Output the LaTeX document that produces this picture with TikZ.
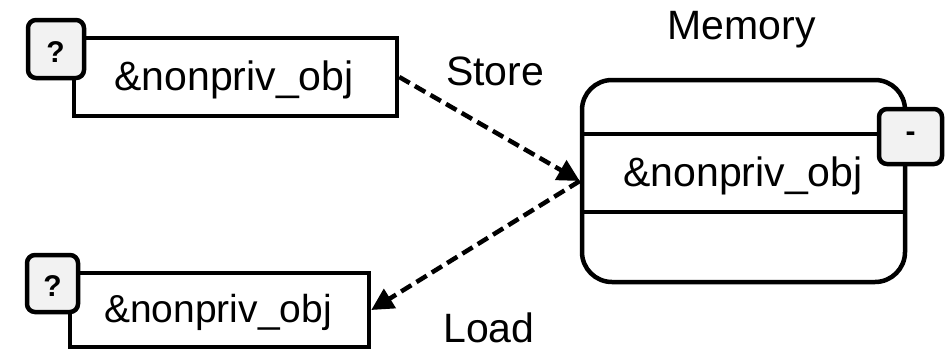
\documentclass[tikz,border=0pt]{standalone}
\usepackage{fontspec}
\setmainfont{Liberation Sans}
\usetikzlibrary{arrows.meta}

\tikzset{
  objbox/.style={draw=black, line width=4.5pt, fill=white, rectangle, inner sep=0pt,
    font=\fontsize{41}{48}\selectfont},
  badge/.style={draw=black, line width=4.5pt, fill=black!5, rectangle, rounded corners=8pt,
    inner sep=0pt, font=\fontsize{30}{36}\selectfont\bfseries},
  membox/.style={draw=black, line width=4.5pt, fill=white, rectangle, rounded corners=30pt,
    inner sep=0pt},
  lbl/.style={font=\fontsize{41}{48}\selectfont, anchor=base, inner sep=0pt},
  flow/.style={draw=black, line width=4.5pt, dash pattern=on 12pt off 6pt,
    -{Triangle[length=22pt,width=22pt]}},
}

\begin{document}
\begin{tikzpicture}[x=1pt, y=-1pt]
  \useasboundingbox (0,0) rectangle (952,351);

  % source object (top)
  \node[objbox, minimum width=323pt, minimum height=78pt] (src) at (235.5,77) {};
  \node[font=\fontsize{41}{48}\selectfont, inner sep=0pt] (srctxt) at (234,80) {\&nonpriv\_obj};
  \node[badge, minimum width=56pt, minimum height=58pt] (srcb) at (56,49) {};
  \node[badge, draw=none, fill=none] (srcq) at (55.5,52) {?};

  % destination object (bottom)
  \node[objbox, minimum width=299pt, minimum height=74pt] (dst) at (219.5,310) {};
  \node[font=\fontsize{39}{46}\selectfont, inner sep=0pt] (dsttxt) at (218,312) {\&nonpriv\_obj};
  \node[badge, minimum width=51pt, minimum height=57pt] (dstb) at (52.5,283.5) {};
  \node[badge, draw=none, fill=none] (dstq) at (52.5,286) {?};

  % memory block with one occupied slot
  \node[membox, minimum width=323pt, minimum height=202pt] (mem) at (743.5,181) {};
  \coordinate (sl1) at (582,134);
  \coordinate (sr1) at (905,134);
  \coordinate (sl2) at (582,212);
  \coordinate (sr2) at (905,212);
  \draw[line width=4.5pt] (sl1) -- (sr1);
  \draw[line width=4.5pt] (sl2) -- (sr2);
  \node[font=\fontsize{41}{48}\selectfont, inner sep=0pt] (memtxt) at (743,176) {\&nonpriv\_obj};
  \node[badge, minimum width=63pt, minimum height=55pt] (memb) at (910.5,136.5) {};
  \node[badge, draw=none, fill=none] (memd) at (910.5,137) {-};

  % labels
  \node[lbl] (memlbl) at (741.5,39) {Memory};
  \node[lbl] (storelbl) at (495,85) {Store};
  \node[lbl] (loadlbl) at (489,342) {Load};

  % data flow
  \draw[flow] (src.east) -- (mem.west);
  \draw[flow] (mem.west) -- (dst.east);
\end{tikzpicture}
\end{document}
